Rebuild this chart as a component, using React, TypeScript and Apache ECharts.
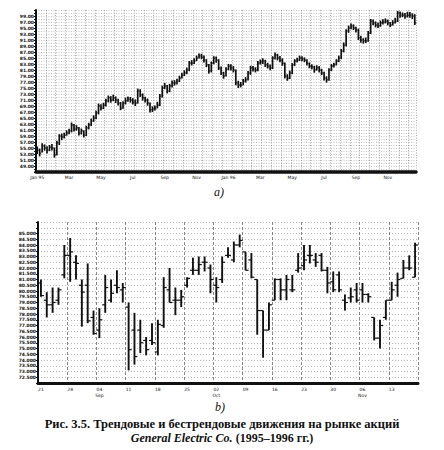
import React, { useEffect, useRef } from "react";
import * as echarts from "echarts";

// Panel a: long-run bars, each row is [low, high, close]
const longRunBars: [number, number, number][] = [
  [53.0, 55.5, 54.3], [52.2, 54.8, 53.3], [53.5, 56.6, 55.7], [54.1, 56.2, 55.0], [53.2, 55.6, 54.3],
  [54.0, 56.0, 55.3], [54.2, 56.3, 55.0], [51.8, 55.2, 52.7], [52.5, 57.4, 56.7], [56.0, 59.6, 59.0],
  [57.6, 59.8, 58.7], [58.2, 60.1, 59.3], [59.1, 60.9, 60.0], [59.6, 61.4, 60.7], [60.2, 63.5, 62.7],
  [60.5, 63.0, 61.3], [60.8, 62.6, 61.7], [59.2, 62.0, 60.0], [59.5, 61.5, 60.7], [58.5, 60.9, 59.3],
  [59.0, 62.4, 61.7], [61.2, 63.4, 62.7], [62.3, 64.8, 64.0], [63.7, 65.9, 65.0], [64.6, 67.4, 66.7],
  [66.2, 69.8, 69.0], [67.5, 69.6, 68.3], [68.0, 70.1, 69.3], [68.8, 71.4, 70.7], [70.2, 72.5, 71.7],
  [70.1, 72.3, 71.0], [70.6, 72.8, 71.7], [70.0, 72.2, 71.0], [69.2, 71.4, 70.0], [67.6, 70.3, 68.3],
  [68.1, 70.6, 70.0], [69.5, 71.8, 70.7], [70.4, 72.2, 71.3], [70.1, 72.0, 71.0], [69.5, 71.6, 70.3],
  [69.0, 71.2, 70.0], [69.8, 74.8, 74.0], [72.0, 74.6, 72.7], [70.8, 73.2, 71.7], [70.2, 72.1, 71.0],
  [69.1, 71.5, 70.0], [66.8, 70.2, 67.7], [67.0, 68.9, 68.0], [67.5, 69.2, 68.3], [68.2, 70.4, 69.3],
  [69.0, 73.0, 72.3], [71.8, 75.8, 75.0], [74.6, 76.7, 75.7], [73.2, 76.0, 74.0], [73.6, 76.4, 75.7],
  [75.2, 77.5, 76.7], [75.8, 77.6, 76.7], [76.2, 78.1, 77.3], [77.0, 79.1, 78.3], [78.2, 80.1, 79.3],
  [79.0, 80.9, 80.0], [79.6, 81.8, 81.0], [80.6, 84.0, 83.3], [82.5, 84.3, 83.3], [83.0, 84.9, 84.0],
  [84.0, 85.8, 85.0], [84.8, 86.5, 85.7], [84.6, 86.4, 85.3], [83.5, 85.8, 84.3], [82.0, 84.6, 82.7],
  [79.8, 83.0, 80.7], [80.2, 83.8, 83.3], [82.9, 85.6, 85.0], [83.4, 85.5, 84.3], [81.0, 84.6, 81.7],
  [79.3, 82.2, 80.0], [78.1, 80.4, 79.0], [78.8, 81.9, 81.3], [80.9, 83.0, 82.3], [80.8, 82.9, 81.7],
  [80.2, 82.3, 81.0], [75.9, 81.2, 76.7], [75.0, 77.4, 76.0], [75.2, 77.0, 76.0], [75.9, 78.0, 77.3],
  [76.8, 78.6, 77.7], [77.5, 80.7, 80.0], [79.4, 82.4, 81.7], [80.5, 82.3, 81.3], [80.2, 81.9, 81.0],
  [80.6, 84.0, 83.3], [82.8, 84.5, 83.7], [83.0, 84.9, 84.0], [82.0, 84.4, 82.7], [81.5, 83.4, 82.3],
  [80.9, 82.8, 81.7], [81.3, 85.6, 85.0], [84.5, 86.8, 86.0], [84.2, 86.4, 85.0], [83.6, 85.7, 84.3],
  [82.4, 84.9, 83.3], [78.2, 83.5, 79.0], [77.4, 79.6, 78.3], [78.0, 80.8, 80.0], [79.6, 83.3, 82.7],
  [82.3, 84.6, 84.0], [83.5, 85.1, 84.3], [84.0, 85.8, 85.0], [83.9, 85.6, 84.7], [83.6, 85.2, 84.3],
  [82.5, 84.6, 83.3], [81.6, 83.5, 82.3], [81.2, 82.9, 82.0], [80.1, 82.4, 81.0], [80.8, 82.6, 81.7],
  [80.2, 82.3, 81.0], [79.3, 81.4, 80.0], [77.5, 80.4, 78.3], [76.8, 78.9, 77.7], [77.4, 81.6, 81.0],
  [80.6, 83.0, 82.3], [81.8, 83.4, 82.7], [82.5, 84.6, 84.0], [83.6, 85.8, 85.0], [84.6, 88.0, 87.3],
  [86.9, 90.2, 89.3], [88.8, 94.6, 94.0], [93.4, 95.8, 95.0], [94.6, 96.5, 95.7], [94.3, 96.2, 95.0],
  [93.5, 95.4, 94.3], [91.0, 94.8, 91.7], [90.1, 92.4, 91.0], [89.8, 91.6, 90.7], [90.0, 91.8, 90.7],
  [90.4, 94.0, 93.3], [93.0, 98.0, 97.3], [95.9, 97.8, 96.7], [95.2, 97.2, 96.0], [95.0, 96.8, 95.7],
  [95.4, 97.5, 96.7], [96.2, 97.9, 97.0], [96.5, 98.2, 97.3], [95.9, 97.8, 96.7], [95.3, 97.0, 96.0],
  [95.8, 97.6, 96.7], [96.5, 98.4, 97.3], [97.0, 100.7, 100.0], [98.4, 100.5, 99.3], [98.6, 100.2, 99.3],
  [98.1, 100.0, 99.0], [98.5, 100.4, 99.3], [98.4, 100.3, 99.3], [98.0, 99.9, 99.0], [96.0, 99.6, 96.7],
];

// Panel b: daily bars, each row is [open, high, low, close]
const dailyBars: [number, number, number, number][] = [
  [80.7, 81.0, 79.5, 79.6], [79.2, 79.9, 77.7, 78.8], [78.8, 80.3, 78.1, 79.0], [79.2, 80.3, 78.8, 80.1],
  [81.4, 84.0, 81.1, 83.1], [83.1, 84.6, 80.8, 83.4], [82.5, 83.1, 81.0, 82.4], [80.5, 81.0, 76.9, 79.9],
  [80.5, 82.4, 77.2, 77.4], [77.7, 78.3, 76.2, 76.3], [76.6, 78.5, 75.9, 77.5], [78.8, 81.4, 78.1, 80.3],
  [79.2, 81.0, 79.0, 79.8], [80.5, 81.8, 79.8, 80.3], [80.1, 80.7, 79.0, 80.3], [78.6, 79.0, 73.1, 74.9],
  [76.6, 78.1, 73.6, 74.3], [76.6, 77.5, 74.6, 75.5], [75.7, 76.0, 74.4, 74.9], [75.7, 77.2, 75.3, 75.5],
  [74.7, 77.5, 74.4, 77.1], [77.0, 81.2, 76.8, 80.3], [80.1, 82.0, 79.0, 79.0], [79.2, 80.3, 77.9, 79.2],
  [79.2, 80.1, 78.6, 79.5], [80.5, 81.2, 80.3, 81.1], [81.8, 82.9, 81.4, 81.8], [81.8, 83.0, 81.4, 82.3],
  [82.5, 83.0, 81.7, 82.5], [82.0, 82.3, 79.8, 81.0], [80.5, 81.2, 79.0, 80.3], [81.0, 83.0, 80.7, 82.5],
  [83.1, 83.8, 82.9, 83.1], [82.7, 84.3, 82.5, 84.0], [84.0, 84.9, 83.8, 84.4], [83.4, 83.4, 81.8, 81.8],
  [82.7, 83.3, 81.1, 81.2], [81.0, 81.0, 76.2, 78.3], [78.3, 78.3, 74.2, 76.6], [76.6, 79.0, 76.6, 78.8],
  [79.2, 81.1, 79.2, 81.0], [81.0, 81.1, 79.2, 80.1], [80.1, 81.4, 79.2, 81.0], [80.1, 81.4, 79.9, 80.1],
  [81.8, 83.3, 81.6, 82.0], [82.2, 84.0, 81.8, 82.7], [83.1, 84.0, 82.4, 83.1], [82.7, 83.3, 82.1, 82.5],
  [83.1, 83.3, 81.7, 81.8], [81.8, 82.1, 79.8, 80.7], [80.8, 81.7, 79.9, 80.1], [81.4, 81.7, 79.9, 80.1],
  [79.2, 79.7, 78.3, 79.0], [79.4, 80.3, 79.0, 79.5], [80.1, 80.7, 79.0, 79.2], [80.1, 80.7, 79.0, 79.7],
  [79.7, 79.8, 79.0, 79.5], [77.7, 77.7, 75.7, 75.9], [75.9, 77.5, 75.0, 77.0], [77.7, 79.2, 77.5, 79.2],
  [79.2, 80.8, 79.2, 80.1], [80.5, 81.6, 79.5, 81.0], [81.1, 82.7, 81.1, 82.0], [82.0, 83.1, 81.8, 82.0],
  [81.2, 84.2, 81.2, 84.0],
];

// Tick labels along the two time axes
const longRunMonthLabels = ["Jan 95", "Mar", "May", "Jul", "Sep", "Nov", "Jan 96", "Mar", "May", "Jul", "Sep", "Nov"];
const dailyDayLabels = ["21", "28", "04", "11", "18", "25", "02", "09", "16", "23", "30", "06", "13"];
const dailyMonthLabels = ["", "", "Sep", "", "", "", "Oct", "", "", "", "", "Nov", ""];

const ink = "#111";
const serif = "'Liberation Serif', 'DejaVu Serif', serif";

function renderLongRunBar(params: any, api: any) {
  const i = api.value(0);
  const pH = api.coord([i, api.value(2)]);
  const pL = api.coord([i, api.value(1)]);
  const pC = api.coord([i, api.value(3)]);
  return {
    type: "group",
    children: [
      { type: "line", shape: { x1: pH[0], y1: pH[1], x2: pL[0], y2: pL[1] }, style: { stroke: ink, lineWidth: 1.7 } },
      { type: "line", shape: { x1: pC[0], y1: pC[1], x2: pC[0] + 1.6, y2: pC[1] }, style: { stroke: ink, lineWidth: 1 } },
    ],
  };
}

function renderDailyBar(params: any, api: any) {
  const i = api.value(0);
  const pO = api.coord([i, api.value(1)]);
  const pH = api.coord([i, api.value(2)]);
  const pL = api.coord([i, api.value(3)]);
  const pC = api.coord([i, api.value(4)]);
  return {
    type: "group",
    children: [
      { type: "line", shape: { x1: pH[0], y1: pH[1], x2: pL[0], y2: pL[1] }, style: { stroke: ink, lineWidth: 1.9 } },
      { type: "line", shape: { x1: pO[0] - 3, y1: pO[1], x2: pO[0], y2: pO[1] }, style: { stroke: ink, lineWidth: 1.2 } },
      { type: "line", shape: { x1: pC[0], y1: pC[1], x2: pC[0] + 3, y2: pC[1] }, style: { stroke: ink, lineWidth: 1.2 } },
    ],
  };
}

export default function App() {
  const ref = useRef<HTMLDivElement>(null);

  useEffect(() => {
    if (!ref.current) return;
    const chart = echarts.init(ref.current, null, { renderer: "svg" });

    const longRunCats = longRunBars.map((_, i) => String(i));
    const dailyCats = dailyBars.map((_, i) => String(i));

    chart.setOption({
      animation: false,
      backgroundColor: "#fff",
      grid: [
        { left: 36, top: 10, width: 380, height: 162 },
        { left: 38, top: 222, width: 380, height: 161 },
      ],
      xAxis: [
        {
          type: "category",
          gridIndex: 0,
          data: longRunCats,
          boundaryGap: true,
          axisLine: { lineStyle: { color: ink, width: 3.5 } },
          axisTick: { show: false },
          axisLabel: {
            interval: 12,
            fontSize: 4.5,
            color: ink,
            margin: 3,
            fontFamily: "DejaVu Sans",
            formatter: (_v: string, i: number) => longRunMonthLabels[i / 13] ?? "",
          },
          splitLine: { show: true, interval: 3, lineStyle: { color: "#777", width: 0.6, type: [1, 1.5] } },
        },
        {
          type: "category",
          gridIndex: 1,
          data: dailyCats,
          boundaryGap: true,
          axisLine: { lineStyle: { color: ink, width: 3 } },
          axisTick: { show: false },
          axisLabel: {
            interval: 4,
            fontSize: 4.5,
            color: ink,
            margin: 3,
            lineHeight: 6,
            fontFamily: "DejaVu Sans",
            formatter: (_v: string, i: number) => {
              const k = i / 5;
              const d = dailyDayLabels[k] ?? "";
              const m = dailyMonthLabels[k] ?? "";
              return m ? d + "\n" + m : d;
            },
          },
          splitLine: { show: true, interval: 4, lineStyle: { color: "#555", width: 0.7, type: [3, 2] } },
        },
      ],
      yAxis: [
        {
          type: "value",
          gridIndex: 0,
          min: 47,
          max: 101,
          interval: 1,
          axisLine: { show: true, lineStyle: { color: ink, width: 2 } },
          axisTick: { show: true, length: 2, lineStyle: { color: ink } },
          axisLabel: {
            fontSize: 4.5,
            color: ink,
            margin: 2,
            fontFamily: "DejaVu Sans",
            fontWeight: "bold",
            formatter: (v: number) => (v % 2 === 1 && v >= 49 && v <= 99 ? v.toFixed(2) : ""),
          },
          splitLine: { show: true, lineStyle: { color: "#888", width: 0.5, type: [1, 1.5] } },
        },
        {
          type: "value",
          gridIndex: 1,
          min: 72,
          max: 86,
          interval: 0.5,
          axisLine: { show: true, lineStyle: { color: ink, width: 2 } },
          axisTick: { show: true, length: 2, lineStyle: { color: ink } },
          axisLabel: {
            fontSize: 4.5,
            color: ink,
            margin: 2,
            fontFamily: "DejaVu Sans",
            fontWeight: "bold",
            formatter: (v: number) => (v >= 72.5 && v <= 85 ? v.toFixed(3) : ""),
          },
          splitLine: { show: true, lineStyle: { color: "#888", width: 0.6, type: [1, 2] } },
        },
      ],
      series: [
        {
          type: "custom",
          xAxisIndex: 0,
          yAxisIndex: 0,
          renderItem: renderLongRunBar,
          encode: { x: 0, y: [1, 2, 3] },
          data: longRunBars.map((b, i) => [i, b[0], b[1], b[2]]),
          clip: false,
        },
        {
          type: "custom",
          xAxisIndex: 1,
          yAxisIndex: 1,
          renderItem: renderDailyBar,
          encode: { x: 0, y: [1, 2, 3, 4] },
          data: dailyBars.map((b, i) => [i, b[0], b[1], b[2], b[3]]),
          clip: false,
        },
      ],
      graphic: [
        {
          type: "text",
          left: 214,
          top: 186,
          style: { text: "a)", font: `italic 12px ${serif}`, fill: ink },
        },
        {
          type: "text",
          left: 215,
          top: 401,
          style: { text: "b)", font: `italic 12px ${serif}`, fill: ink },
        },
        {
          type: "text",
          left: "center",
          top: 417,
          style: {
            text: "Рис. 3.5. Трендовые и бестрендовые движения на рынке акций",
            font: `bold 12.5px ${serif}`,
            fill: ink,
          },
        },
        {
          type: "text",
          left: "center",
          top: 432,
          style: {
            text: "{i|General Electric Co.} {n|(1995–1996 гг.)}",
            fill: ink,
            rich: {
              i: { font: `italic bold 12px ${serif}`, fill: ink },
              n: { font: `bold 12px ${serif}`, fill: ink },
            },
          },
        },
      ],
    });

    return () => chart.dispose();
  }, []);

  return (
    <div
      ref={ref}
      style={{ position: "fixed", left: 0, top: 0, width: 444, height: 450, background: "#fff" }}
    />
  );
}
